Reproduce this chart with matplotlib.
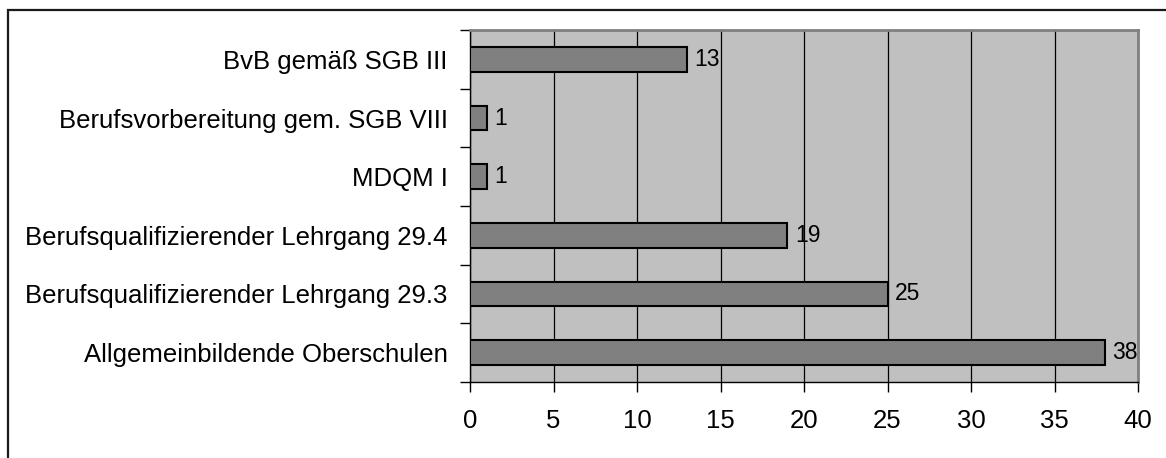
import matplotlib
matplotlib.use('Agg')
from matplotlib import pyplot as plt
from matplotlib.patches import Rectangle
import numpy as np

plt.rcParams['font.family'] = ['Liberation Sans', 'DejaVu Sans']

categories = ['BvB gemäß SGB III',
              'Berufsvorbereitung gem. SGB VIII',
              'MDQM I',
              'Berufsqualifizierender Lehrgang 29.4',
              'Berufsqualifizierender Lehrgang 29.3',
              'Allgemeinbildende Oberschulen']
values = [13, 1, 1, 19, 25, 38]
x_ticks = [0, 5, 10, 15, 20, 25, 30, 35, 40]

W, H = 1166, 458
fig = plt.figure(figsize=(W / 100, H / 100), dpi=100)
ax = fig.add_axes([470 / W, 1 - 382 / H, (1138 - 470) / W, (382 - 30) / H])

# frame around the whole chart (right and bottom run off the edge)
fig.patches.append(Rectangle((8 / W, -0.1), 1.2, 1 - 10 / H + 0.1,
                             transform=fig.transFigure, fill=False,
                             edgecolor='#1a1a1a', linewidth=1.6, clip_on=False))

ax.set_facecolor('#c0c0c0')
pos = np.arange(len(categories))
bars = ax.barh(pos, values, height=0.42, color='#808080',
               edgecolor='black', linewidth=1.5, zorder=3)
for b, v in zip(bars, values):
    ax.text(b.get_width() + 0.45, b.get_y() + b.get_height() / 2, str(v),
            va='center', ha='left', fontsize=16.5, zorder=4)

ax.set_xlim(0, 40)
ax.set_ylim(5.5, -0.5)
ax.set_xticks(x_ticks)
ax.set_xticklabels([str(t) for t in x_ticks], fontsize=18.5)
ax.xaxis.grid(True, color='black', linewidth=0.9, zorder=1)
ax.set_axisbelow(True)

ax.set_yticks(pos)
ax.set_yticklabels(categories, fontsize=18.5)
ax.set_yticks(np.arange(-0.5, len(categories), 1.0), minor=True)
ax.tick_params(axis='y', which='major', length=0, pad=16)
ax.tick_params(axis='y', which='minor', length=7, width=1, color='black')
ax.tick_params(axis='x', length=7, width=1, pad=12.5)

for s in ('left', 'bottom'):
    ax.spines[s].set_color('black')
    ax.spines[s].set_linewidth(1)
for s in ('top', 'right'):
    ax.spines[s].set_color('#808080')
    ax.spines[s].set_linewidth(2)

fig.savefig('out.png', dpi=100)
